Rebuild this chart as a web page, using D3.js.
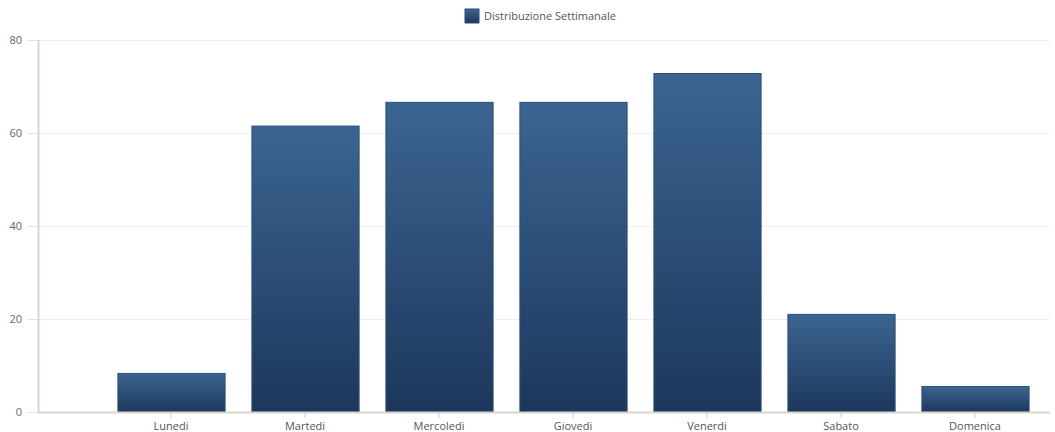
<!DOCTYPE html>
<html><head><meta charset="utf-8">
<script src="https://cdn.jsdelivr.net/npm/d3@7"></script>
<style>body{margin:0;background:#fff}svg{display:block}</style>
</head><body>
<svg id="c" width="1055" height="432"></svg>
<script>
const categories = ["Lunedi","Martedi","Mercoledi","Giovedi","Venerdi","Sabato","Domenica"];
const values = [8.4, 61.6, 66.7, 66.7, 72.9, 21.1, 5.6];
const yTicks = [0, 20, 40, 60, 80];
const seriesName = "Distribuzione Settimanale";

const svg = d3.select("#c");
const font = "'Open Sans', sans-serif";
const axisX0 = 38, axisX1 = 1050;
const y = d3.scaleLinear().domain([0, 80]).range([412, 40]);
const x = d3.scaleBand().domain(categories).range([104, 1042]).paddingInner(0.2).paddingOuter(0.1);

const defs = svg.append("defs");
const g = defs.append("linearGradient").attr("id","bg").attr("x1",0).attr("y1",0).attr("x2",0).attr("y2",1);
g.append("stop").attr("offset","0%").attr("stop-color","#3b6591");
g.append("stop").attr("offset","100%").attr("stop-color","#1d375c");

// grid
svg.append("g").selectAll("line").data(yTicks.filter(d=>d>0)).join("line")
  .attr("x1", axisX0).attr("x2", axisX1).attr("y1", d=>y(d)+0.5).attr("y2", d=>y(d)+0.5)
  .attr("stroke", "#eeeeee").attr("stroke-width", 1);

// y axis
const yAxis = svg.append("g").attr("transform", `translate(${axisX0},0)`)
  .call(d3.axisLeft(y).tickValues(yTicks).tickSize(10).tickPadding(6));
yAxis.select(".domain").remove();
yAxis.selectAll(".tick line").attr("stroke", "#e0e0e0");
yAxis.selectAll(".tick text").attr("fill", "#666").style("font-family", font).style("font-size", "11px");
svg.append("line").attr("x1", axisX0+0.5).attr("x2", axisX0+0.5).attr("y1", 40).attr("y2", 412)
  .attr("stroke", "#d8d6cc").attr("stroke-width", 2);

// bars
svg.append("g").selectAll("rect").data(values).join("rect")
  .attr("x", (d,i)=>x(categories[i])+0.5)
  .attr("y", d=>y(d)+0.5)
  .attr("width", x.bandwidth())
  .attr("height", d=>y(0)-y(d))
  .attr("fill", "url(#bg)")
  .attr("stroke", "#2e4f78").attr("stroke-width", 1);

// x axis
svg.append("line").attr("x1", axisX0).attr("x2", axisX1).attr("y1", 412.5).attr("y2", 412.5)
  .attr("stroke", "#d8d6cc").attr("stroke-width", 2);
const xAxis = svg.append("g").attr("transform", "translate(0,413)")
  .call(d3.axisBottom(x).tickSize(5).tickPadding(4));
xAxis.select(".domain").remove();
xAxis.selectAll(".tick line").attr("stroke", "#cccccc");
xAxis.selectAll(".tick text").attr("fill", "#555").style("font-family", font).style("font-size", "11px");

// legend
const lg = svg.append("g").attr("transform", "translate(465,9)");
lg.append("rect").attr("width", 14).attr("height", 14).attr("fill", "url(#bg)").attr("stroke", "#2e4f78");
lg.append("text").attr("x", 19).attr("y", 11).text(seriesName)
  .attr("fill", "#555").style("font-family", font).style("font-size", "11px");
</script>
</body></html>
